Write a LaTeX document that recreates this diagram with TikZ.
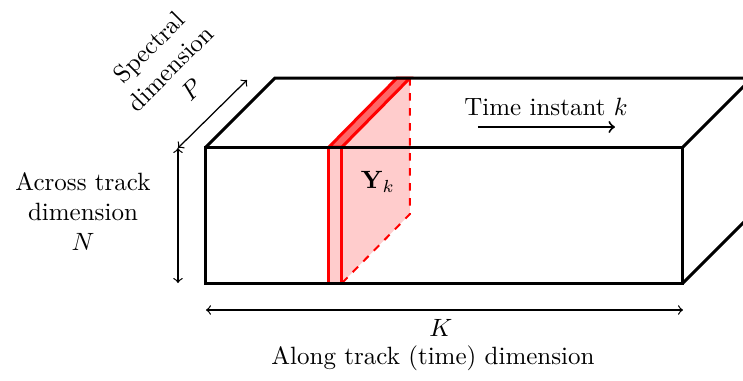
\documentclass[tikz,border=0pt]{standalone}
\usetikzlibrary{calc}
\tikzset{
  edge/.style={line width=1.2pt, black, line join=miter},
  redline/.style={line width=1.2pt, red},
  reddash/.style={line width=0.8pt, red, dashed},
  dimarrow/.style={<->, line width=0.5pt},
  timearrow/.style={->, line width=0.8pt},
  lbl/.style={align=center, inner sep=0pt, font=\normalsize},
}
\begin{document}
\begin{tikzpicture}[x=0.4pt, y=-0.4pt]
\useasboundingbox (0,0) rectangle (743,381);
\clip (0,0) rectangle (743,381);
% cube corners
\coordinate (A) at (206,147);
\coordinate (B) at (683,147);
\coordinate (C) at (683,283);
\coordinate (D) at (206,283);
\coordinate (E) at (275,78);
\coordinate (F) at (752,78);
\coordinate (G) at (752,214);
% slice corners
\coordinate (s0) at (329,283);
\coordinate (s1) at (329,147);
\coordinate (s2) at (342,147);
\coordinate (s3) at (342,283);
\coordinate (t1) at (397,78);
\coordinate (t2) at (410,78);
\coordinate (t3) at (410,214);
% slice fills
\fill[red!20] (s0) -- (s1) -- (s2) -- (t2) -- (t3) -- (s3) -- cycle;
\filldraw[redline, fill=red!60] (s1) -- (t1) -- (t2) -- (s2) -- cycle;
\draw[redline] (s1) -- (s0);
\draw[redline] (s2) -- (s3);
\draw[reddash] (t2) -- (t3) -- (s3);
% cube edges
\draw[edge] (A) rectangle (C);
\draw[edge] (A) -- (E) -- (F);
\draw[edge] (B) -- (F);
\draw[edge] (C) -- (G);
% labels
\node[lbl] (Yk) at (378,182) {$\mathbf{Y}_k$};
\node[lbl, anchor=base] (time) at (546,115) {Time instant $k$};
\coordinate (ta) at (478,127);
\coordinate (tb) at (615,127);
\draw[timearrow] (ta) -- (tb);
% dimension arrows
\coordinate (pa) at (178,148);
\coordinate (pb) at (247,80);
\draw[dimarrow] (pa) -- (pb);
\coordinate (na) at (178,148);
\coordinate (nb) at (178,283);
\draw[dimarrow] (na) -- (nb);
\coordinate (ka) at (206,310);
\coordinate (kb) at (683,310);
\draw[dimarrow] (ka) -- (kb);
\node[lbl] (Nlab) at (83,212) {Across track\\dimension\\$N$};
\node[lbl, rotate=45] (Plab) at (170,68) {Spectral\\dimension\\$P$};
\node[lbl] (Klab) at (441,328) {$K$};
\node[lbl] (Along) at (433,358) {Along track (time) dimension};
\end{tikzpicture}
\end{document}
